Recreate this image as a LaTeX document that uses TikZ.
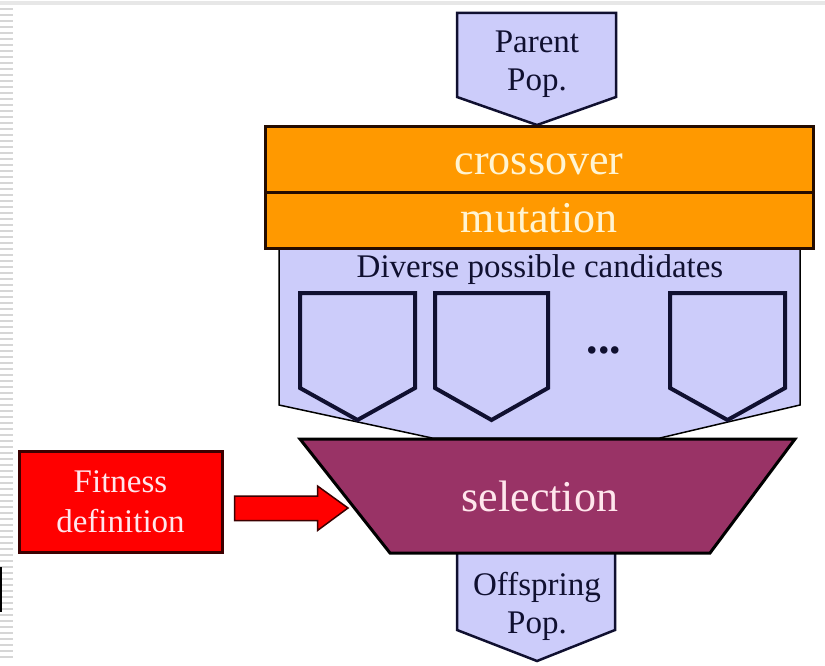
\documentclass[tikz,border=0pt]{standalone}
\usepackage{fontspec}
\setmainfont{Liberation Serif}
\usetikzlibrary{calc}

\definecolor{lav}{RGB}{204,204,250}
\definecolor{orng}{RGB}{255,153,0}
\definecolor{plum}{RGB}{153,51,102}
\definecolor{ink}{RGB}{16,16,48}
\definecolor{cream}{RGB}{255,244,210}
\definecolor{blush}{RGB}{255,230,236}
\definecolor{edge}{RGB}{36,12,0}
\definecolor{stripe}{RGB}{214,214,214}
\definecolor{darkred}{RGB}{60,0,0}

\begin{document}
\begin{tikzpicture}[x=1pt,y=-1pt,line join=miter,
  popbox/.style={fill=lav,draw=ink,line width=2.5pt},
  candbox/.style={fill=lav,draw=ink,line width=4pt},
  bar/.style={fill=orng,draw=edge,line width=3pt},
  smalltxt/.style={font=\fontsize{33}{38}\selectfont,text=ink,align=center,inner sep=0pt},
  bigtxt/.style={font=\fontsize{44}{50}\selectfont,inner sep=0pt,anchor=base},
  fitbox/.style={fill=red,draw=darkred,line width=3pt,minimum width=203pt,minimum height=101pt,inner sep=0pt},
  blockarrow/.style={fill=red,draw=darkred,line width=1.5pt}]

\useasboundingbox (0,0) rectangle (825,666);
\fill[white] (0,0) rectangle (825,666);

% slide template: top rule and striped left margin
\fill[stripe!60] (0,1) rectangle (825,5);
\foreach \k in {0,...,108}
  \fill[stripe] (0,{8+6*\k}) rectangle (13,{9.6+6*\k});
\fill[black] (0,567) rectangle (2.2,612);

% parent population
\draw[popbox] (457,13) -- (616,13) -- (616,97) -- (537,125) -- (457,97) -- cycle;
\node[smalltxt] (parent) at (537,64) {Parent\\Pop.};

% pool of candidates
\draw[fill=lav,draw=black,line width=1.5pt]
  (279,240) -- (279,405) -- (432,438) -- (660,438) -- (800,405) -- (800,240) -- cycle;
\node[smalltxt,anchor=base] (pool) at (540,277) {Diverse possible candidates};
\foreach \xa/\xb/\nm in {300/415/candA,435/548/candB,670/785/candC}{
  \draw[candbox] (\xa,293) -- (\xb,293) -- (\xb,388)
    -- ({(\xa+\xb)/2},420) -- (\xa,388) -- cycle;
  \coordinate (\nm) at ({(\xa+\xb)/2},350);
}
\node[font=\fontsize{46}{50}\selectfont\bfseries,text=ink,inner sep=0pt] (dots) at (604,350) {...};

% variation operators
\draw[bar] (265,127) rectangle (813,193);
\draw[bar] (265,193) rectangle (813,248);
\node[bigtxt,text=cream] (cross) at (539,175) {crossover};
\node[bigtxt,text=cream] (mut) at (539,233) {mutation};

% offspring population
\draw[popbox] (457,545) -- (615,545) -- (615,630) -- (537,661) -- (457,630) -- cycle;
\node[smalltxt] (offspring) at (537,606) {Offspring\\Pop.};

% selection funnel
\draw[fill=plum,draw=black,line width=3pt]
  (300,439) -- (795,439) -- (710,553) -- (390,553) -- cycle;
\coordinate (selin) at (348,508);
\node[bigtxt,text=blush] (sel) at (540,511) {selection};

% fitness definition feeding the selection
\node[fitbox] (fit) at (120.5,501.5) {};
\node[font=\fontsize{33}{40}\selectfont,text=blush,align=center,inner sep=0pt]
  (fittext) at (fit.center) {Fitness\\definition};
\draw[blockarrow] ($(fit.east)+(11,-5.5)$) -- ++(83,0) -- ++(0,-10) -- (selin)
  -- ($(fit.east)+(94,29)$) -- ++(0,-10) -- ++(-83,0) -- cycle;

\end{tikzpicture}
\end{document}
